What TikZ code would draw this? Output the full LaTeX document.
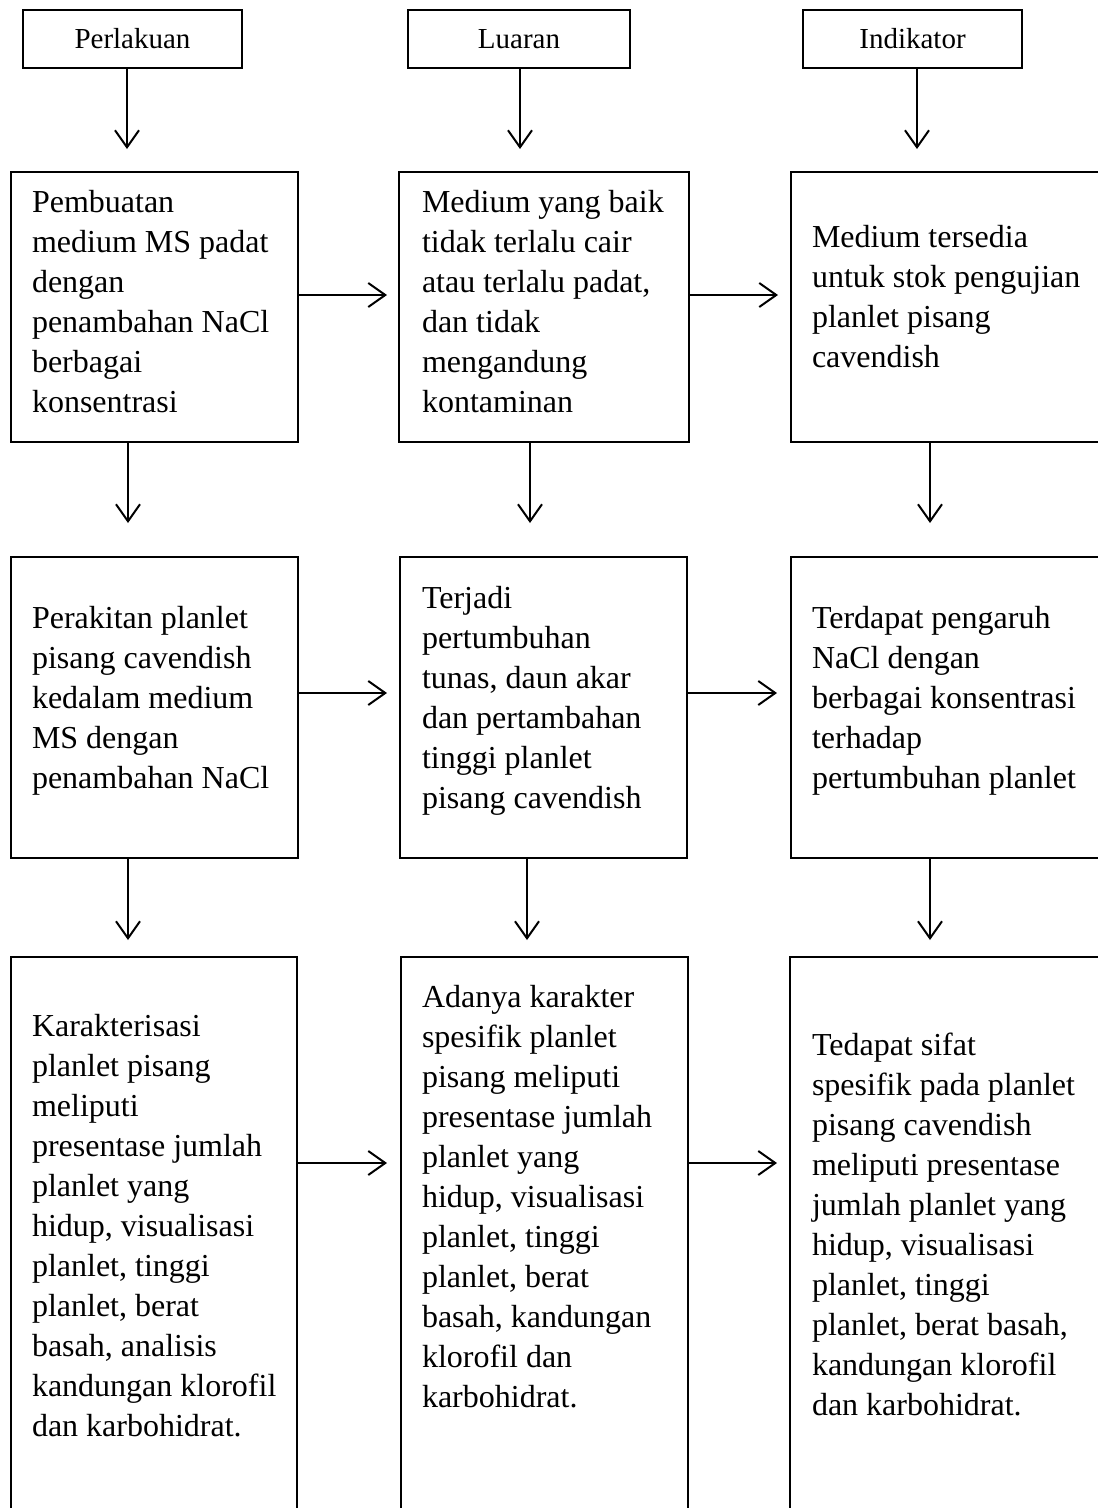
\documentclass[tikz,border=0pt]{standalone}
\usepackage{fontspec}
\setmainfont{Liberation Serif}
\usetikzlibrary{arrows.meta}
\tikzset{
  frame/.style={draw, line width=2pt, inner sep=0pt, outer sep=0pt, rectangle},
  hbox/.style={frame, minimum width=219pt, minimum height=58pt, font=\fontsize{29}{35}\selectfont},
  txt/.style={inner sep=0pt, outer sep=0pt, anchor=base west},
  arr/.style={line width=2pt, -{Straight Barb[length=17pt, width=24pt, line width=2pt]}}
}
\newcommand{\bodytext}[1]{\parbox[t]{320pt}{\fontsize{32}{40}\selectfont\raggedright #1}}
\begin{document}
\begin{tikzpicture}[x=1pt, y=-1pt]
\path[use as bounding box, fill=white] (0,0) rectangle (1098,1508);
\clip (0,0) rectangle (1098,1508);
% header boxes
\node[hbox] (h1) at (132.5,39) {Perlakuan};
\node[hbox, minimum width=222pt] (h2) at (519,39) {Luaran};
\node[hbox] (h3) at (912.5,39) {Indikator};
% row 1
\node[frame, minimum width=287pt, minimum height=270pt] (a1) at (154.5,307) {};
\node[frame, minimum width=290pt, minimum height=270pt] (b1) at (544,307) {};
\node[frame, minimum width=330pt, minimum height=270pt] (c1) at (956,307) {};
% row 2
\node[frame, minimum width=287pt, minimum height=301pt] (a2) at (154.5,707.5) {};
\node[frame, minimum width=287pt, minimum height=301pt] (b2) at (543.5,707.5) {};
\node[frame, minimum width=330pt, minimum height=301pt] (c2) at (956,707.5) {};
% row 3
\node[frame, minimum width=286pt, minimum height=600pt] (a3) at (154,1257) {};
\node[frame, minimum width=287pt, minimum height=600pt] (b3) at (544.5,1257) {};
\node[frame, minimum width=330pt, minimum height=600pt] (c3) at (955,1257) {};
% texts
\node[txt] (a1t) at (32,212) {\bodytext{Pembuatan\\medium MS padat\\dengan\\penambahan NaCl\\berbagai\\konsentrasi}};
\node[txt] (b1t) at (422,212) {\bodytext{Medium yang baik\\tidak terlalu cair\\atau terlalu padat,\\dan tidak\\mengandung\\kontaminan}};
\node[txt] (c1t) at (812,247) {\bodytext{Medium tersedia\\untuk stok pengujian\\planlet pisang\\cavendish}};
\node[txt] (a2t) at (32,628) {\bodytext{Perakitan planlet\\pisang cavendish\\kedalam medium\\MS dengan\\penambahan NaCl}};
\node[txt] (b2t) at (422,608) {\bodytext{Terjadi\\pertumbuhan\\tunas, daun akar\\dan pertambahan\\tinggi planlet\\pisang cavendish}};
\node[txt] (c2t) at (812,628) {\bodytext{Terdapat pengaruh\\NaCl dengan\\berbagai konsentrasi\\terhadap\\pertumbuhan planlet}};
\node[txt] (a3t) at (32,1036) {\bodytext{Karakterisasi\\planlet pisang\\meliputi\\presentase jumlah\\planlet yang\\hidup, visualisasi\\planlet, tinggi\\planlet, berat\\basah, analisis\\kandungan klorofil\\dan karbohidrat.}};
\node[txt] (b3t) at (422,1007) {\bodytext{Adanya karakter\\spesifik planlet\\pisang meliputi\\presentase jumlah\\planlet yang\\hidup, visualisasi\\planlet, tinggi\\planlet, berat\\basah, kandungan\\klorofil dan\\karbohidrat.}};
\node[txt] (c3t) at (812,1055) {\bodytext{Tedapat sifat\\spesifik pada planlet\\pisang cavendish\\meliputi presentase\\jumlah planlet yang\\hidup, visualisasi\\planlet, tinggi\\planlet, berat basah,\\kandungan klorofil\\dan karbohidrat.}};
% arrow tips
\coordinate (th1) at (127,149);
\coordinate (th2) at (520,149);
\coordinate (th3) at (917,149);
\coordinate (ta1) at (128,523);
\coordinate (tb1) at (530,523);
\coordinate (tc1) at (930,523);
\coordinate (ta2) at (128,940);
\coordinate (tb2) at (527,940);
\coordinate (tc2) at (930,940);
\coordinate (tr1) at (387,295);
\coordinate (ts1) at (778,295);
\coordinate (tr2) at (387,693);
\coordinate (ts2) at (777,693);
\coordinate (tr3) at (387,1163);
\coordinate (ts3) at (777,1163);
% vertical arrows
\draw[arr] (h1.south -| th1) -- (th1);
\draw[arr] (h2.south -| th2) -- (th2);
\draw[arr] (h3.south -| th3) -- (th3);
\draw[arr] (a1.south -| ta1) -- (ta1);
\draw[arr] (b1.south -| tb1) -- (tb1);
\draw[arr] (c1.south -| tc1) -- (tc1);
\draw[arr] (a2.south -| ta2) -- (ta2);
\draw[arr] (b2.south -| tb2) -- (tb2);
\draw[arr] (c2.south -| tc2) -- (tc2);
% horizontal arrows
\draw[arr] (a1.east |- tr1) -- (tr1);
\draw[arr] (b1.east |- ts1) -- (ts1);
\draw[arr] (a2.east |- tr2) -- (tr2);
\draw[arr] (b2.east |- ts2) -- (ts2);
\draw[arr] (a3.east |- tr3) -- (tr3);
\draw[arr] (b3.east |- ts3) -- (ts3);
\end{tikzpicture}
\end{document}
